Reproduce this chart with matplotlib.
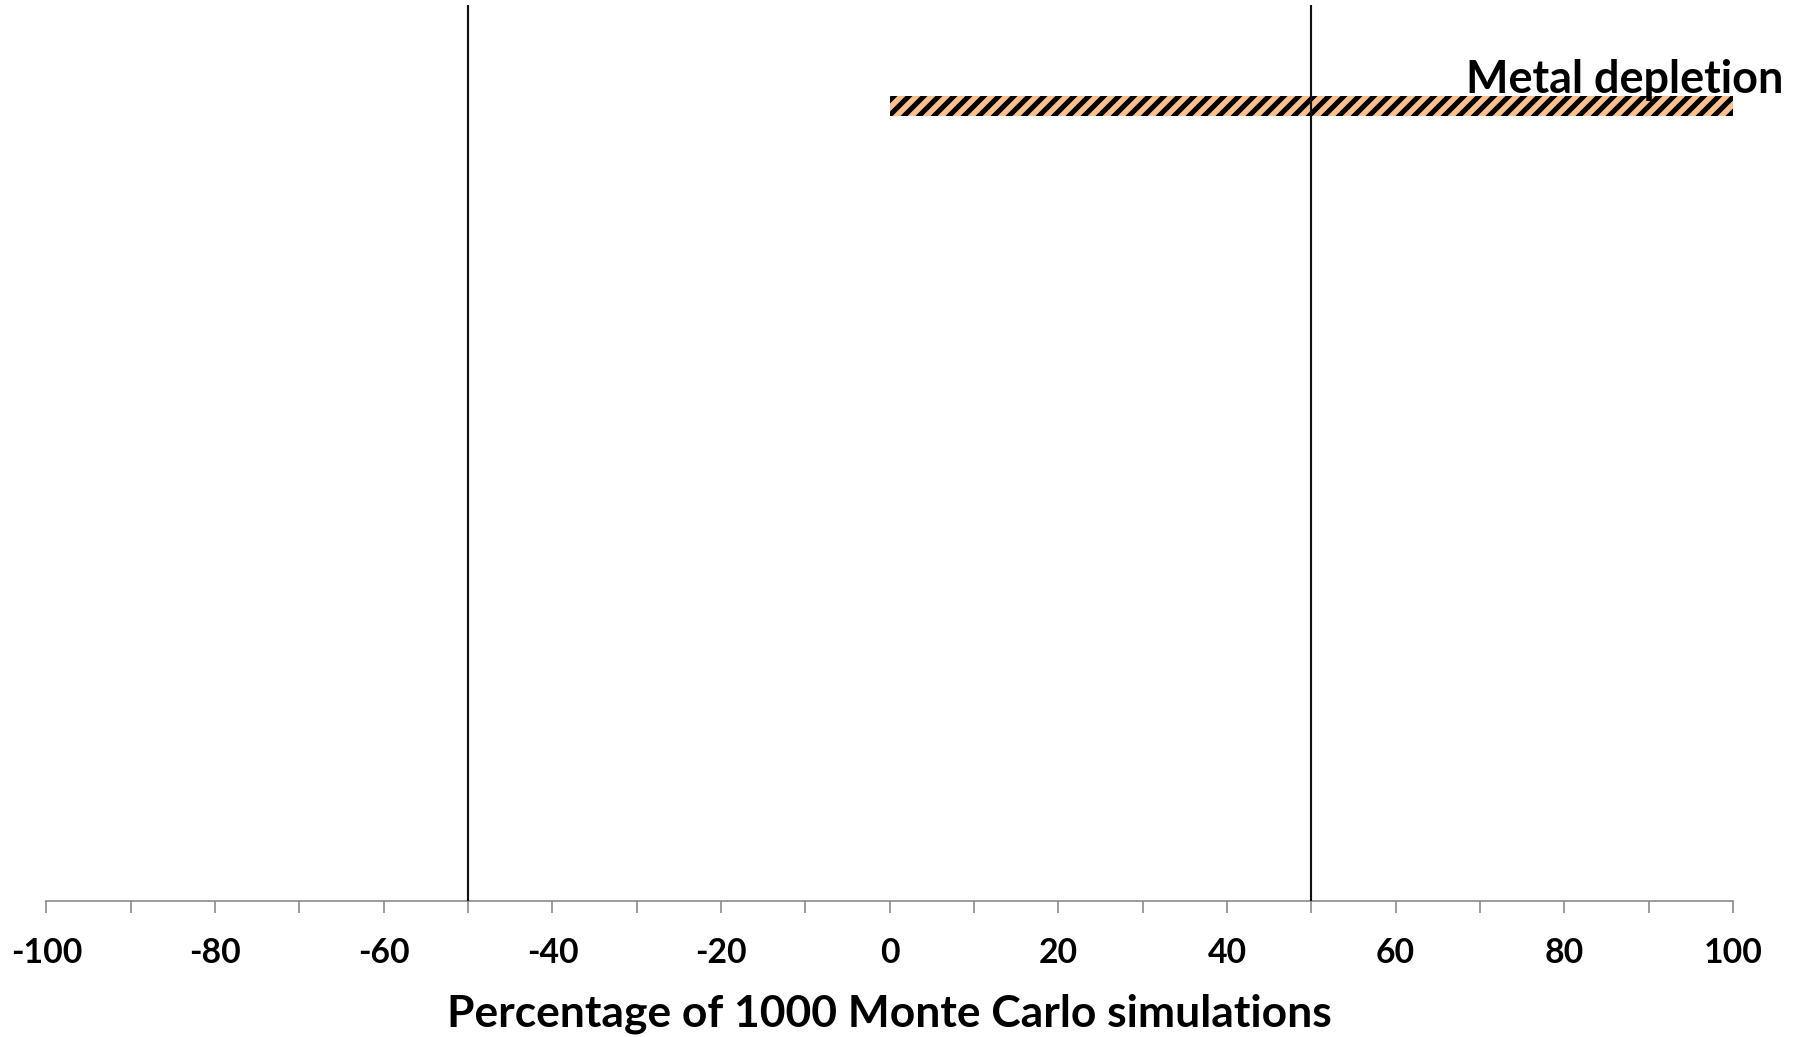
import matplotlib
matplotlib.use("Agg")
import matplotlib.pyplot as plt
from matplotlib.ticker import MultipleLocator

# Data
categories = ["Metal depletion"]
range_low = [0]
range_high = [100]
reference_lines = [-50, 50]
tick_values = list(range(-100, 101, 20))
tick_labels = [str(v) for v in tick_values]
x_title = "Percentage of 1000 Monte Carlo simulations"

DPI = 90
plt.rcParams["font.family"] = ["Lato", "DejaVu Sans"]
plt.rcParams["hatch.linewidth"] = 4.0

fig = plt.figure(figsize=(1802 / DPI, 1037 / DPI), dpi=DPI)
ax = fig.add_axes([0.0258, 0.1311, 0.9359, 0.8641])

# Horizontal range bar
bar_y = [0.887]
ax.barh(bar_y, [h - l for l, h in zip(range_low, range_high)], left=range_low,
        height=0.0223, color="#FAC090", edgecolor="black", linewidth=0,
        hatch="//")

for name, y, hi in zip(categories, bar_y, range_high):
    ax.text(68.3, y + 0.0147, name, fontsize=36, fontweight="bold",
            color="black", ha="left", va="baseline", clip_on=False)

# Reference lines
for xv in reference_lines:
    ax.axvline(xv, color="#111111", linewidth=1.7, zorder=3)

ax.set_xlim(-100, 100)
ax.set_ylim(0, 1)
ax.set_xticks(tick_values)
ax.set_xticklabels(tick_labels, fontsize=27, fontweight="bold")
ax.xaxis.set_minor_locator(MultipleLocator(10))
ax.tick_params(axis="x", which="both", direction="out", length=9.6,
               width=1.3, color="#878787", pad=19.5)
ax.set_yticks([])
for side in ["left", "right", "top"]:
    ax.spines[side].set_visible(False)
ax.spines["bottom"].set_color("#878787")
ax.spines["bottom"].set_linewidth(1.3)

ax.set_xlabel(x_title, fontsize=35.5, fontweight="bold", labelpad=19.5)

fig.savefig("out.png", dpi=DPI, facecolor="white")
